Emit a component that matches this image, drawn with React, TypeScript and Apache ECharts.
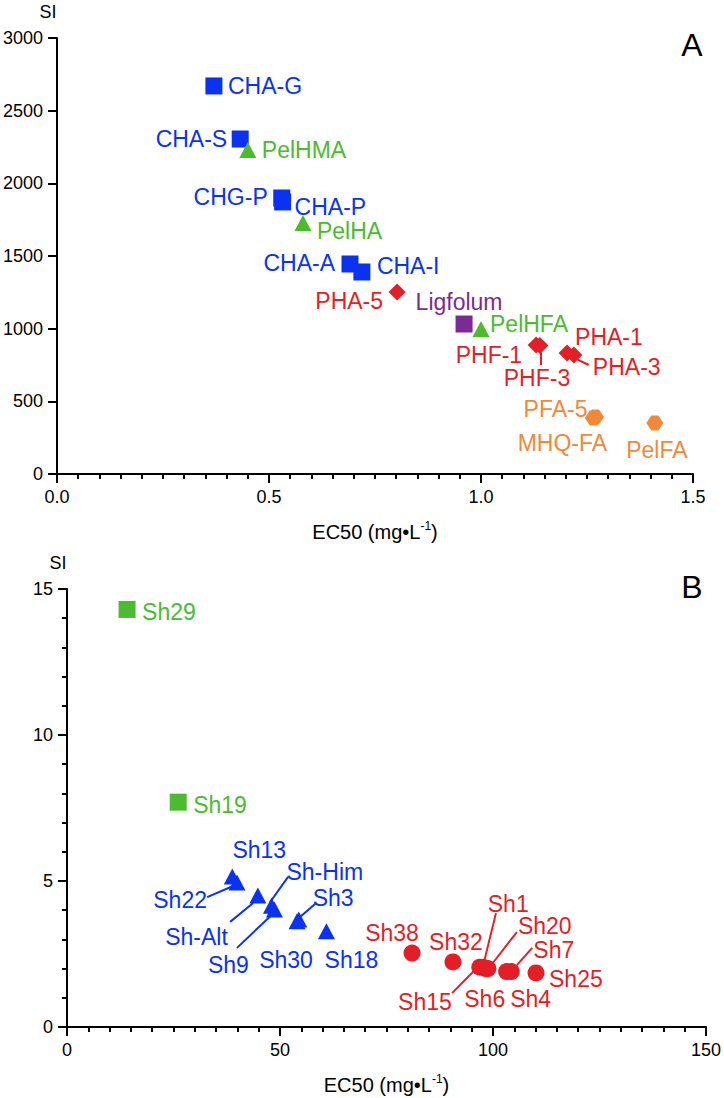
import React, { useEffect, useRef } from "react";
import * as echarts from "echarts";

// ---------- Panel A data ----------
const aBlueNames = ["CHA-G", "CHA-S", "CHG-P", "CHA-P", "CHA-A", "CHA-I"];
const aBlueEC50 = [0.37, 0.432, 0.53, 0.532, 0.691, 0.719];
const aBlueSI = [2670, 2305, 1899, 1872, 1445, 1390];

const aGreenNames = ["PelHMA", "PelHA", "PelHFA"];
const aGreenEC50 = [0.45, 0.58, 1.0];
const aGreenSI = [2230, 1727, 998];

const aRedNames = ["PHA-5", "PHF-1", "PHF-3", "PHA-1", "PHA-3"];
const aRedEC50 = [0.802, 1.13, 1.139, 1.203, 1.219];
const aRedSI = [1252, 888, 885, 833, 819];

const aPurpleNames = ["Ligfolum"];
const aPurpleEC50 = [0.96];
const aPurpleSI = [1032];

const aOrangeNames = ["MHQ-FA", "PFA-5", "PelFA"];
const aOrangeEC50 = [1.265, 1.27, 1.41];
const aOrangeSI = [385, 392, 351];

const aXTicks = [0, 0.5, 1.0, 1.5];
const aYTicks = [0, 500, 1000, 1500, 2000, 2500, 3000];

// ---------- Panel B data ----------
const bGreenNames = ["Sh29", "Sh19"];
const bGreenEC50 = [14.1, 26.1];
const bGreenSI = [14.3, 7.7];

const bBlueNames = ["Sh13", "Sh22", "Sh-Alt", "Sh-Him", "Sh9", "Sh30", "Sh3", "Sh18"];
const bBlueEC50 = [38.8, 39.9, 44.8, 48.0, 48.7, 54.0, 54.4, 60.9];
const bBlueSI = [5.15, 4.95, 4.5, 4.15, 4.02, 3.62, 3.68, 3.28];

const bRedNames = ["Sh38", "Sh32", "Sh15", "Sh1", "Sh6", "Sh20", "Sh4", "Sh7", "Sh25"];
const bRedEC50 = [81.0, 90.6, 96.9, 97.6, 98.3, 98.8, 103.2, 104.3, 110.1];
const bRedSI = [2.53, 2.23, 2.05, 2.05, 2.0, 2.0, 1.9, 1.9, 1.85];

const bXTicks = [0, 50, 100, 150];
const bYTicks = [0, 5, 10, 15];

// ---------- label placement (align, dx, dy in px from marker centre) ----------
const labelPlace: Record<string, [string, number, number]> = {
  "CHA-G": ["left", 14, 0],
  "CHA-S": ["right", -13, 0],
  "CHG-P": ["right", -14, -1],
  "CHA-P": ["left", 12, 5],
  "CHA-A": ["right", -15, -1],
  "CHA-I": ["left", 15, -6],
  PelHMA: ["left", 14, 0],
  PelHA: ["left", 14, 8],
  PelHFA: ["left", 9, -5],
  "PHA-5": ["right", -14, 9],
  "PHF-1": ["right", -14, 10],
  "PHF-3": ["center", -3, 33],
  "PHA-1": ["left", 8, -16],
  "PHA-3": ["left", 19, 12],
  Ligfolum: ["center", -5, -22],
  "PFA-5": ["right", -8, -8],
  "MHQ-FA": ["center", -31, 25],
  PelFA: ["center", 2, 27],
  Sh29: ["left", 15, 3],
  Sh19: ["left", 15, 3],
  Sh13: ["center", 27, -27],
  Sh22: ["right", -30, 18],
  "Sh-Alt": ["right", -30, 41],
  "Sh-Him": ["left", 15, -34],
  Sh9: ["center", -46, 55],
  Sh3: ["left", 14, -22],
  Sh30: ["center", -11, 39],
  Sh18: ["center", 25, 29],
  Sh38: ["center", -20, -20],
  Sh32: ["center", 3, -20],
  Sh1: ["left", 5, -63],
  Sh20: ["left", 30, -43],
  Sh7: ["left", 22, -22],
  Sh25: ["left", 13, 6],
  Sh15: ["right", -28, 35],
  Sh6: ["center", -1, 30],
  Sh4: ["center", 24, 27],
};

// leader lines (data coordinates: from label to marker)
const aLeaders: [number[], number[]][] = [
  [[1.142, 750], [1.141, 838]],
  [[1.254, 750], [1.227, 789]],
];
const bLeaders: [number[], number[]][] = [
  [[32.9, 4.45], [39.0, 4.83]],
  [[38.3, 3.6], [43.7, 4.25]],
  [[51.9, 5.14], [47.7, 4.28]],
  [[39.9, 2.71], [49.3, 4.01]],
  [[58.5, 4.25], [54.7, 3.77]],
  [[100.7, 3.9], [98.0, 2.29]],
  [[105.6, 3.25], [100.0, 2.2]],
  [[109.2, 2.71], [105.6, 2.12]],
  [[90.4, 1.16], [96.2, 2.02]],
];

const BLUE = "#0a32f0";
const GREEN = "#4cbb30";
const RED = "#e41e26";
const PURPLE = "#7b2a96";
const ORANGE = "#f08a3a";
const FONT = '"Liberation Sans", Arial, Helvetica, sans-serif';
const HEX = "path://M0,5 L2.9,0 L7.1,0 L10,5 L7.1,10 L2.9,10 Z";

function makeData(names: string[], xs: number[], ys: number[]) {
  return names.map((n, i) => {
    const p = labelPlace[n] || ["left", 12, 0];
    return {
      name: n,
      value: [xs[i], ys[i]],
      label: { align: p[0], offset: [p[1], p[2]] },
    };
  });
}

function scatter(
  idx: number,
  names: string[],
  xs: number[],
  ys: number[],
  color: string,
  symbol: string,
  size: number | number[]
) {
  return {
    type: "scatter",
    xAxisIndex: idx,
    yAxisIndex: idx,
    symbol,
    symbolSize: size,
    itemStyle: { color, opacity: 1 },
    label: {
      show: true,
      position: "inside",
      formatter: "{b}",
      color,
      fontSize: 23,
      lineHeight: 21,
      fontFamily: FONT,
      verticalAlign: "middle",
    },
    emphasis: { disabled: true },
    z: 3,
    data: makeData(names, xs, ys),
  };
}

function leaders(idx: number, segs: [number[], number[]][], colors: string[]) {
  return {
    type: "lines",
    coordinateSystem: "cartesian2d",
    xAxisIndex: idx,
    yAxisIndex: idx,
    z: 2,
    silent: true,
    lineStyle: { opacity: 1, width: 2 },
    data: segs.map((s, i) => ({
      coords: [s[0], s[1]],
      lineStyle: { color: colors[i], width: 2, opacity: 1 },
    })),
  };
}

function axisCommon() {
  return {
    axisLine: { show: true, onZero: false, lineStyle: { color: "#000", width: 2 } },
    axisTick: { show: true, inside: false, length: 9, lineStyle: { color: "#000", width: 2 } },
    splitLine: { show: false },
  };
}

export default function App() {
  const ref = useRef<HTMLDivElement>(null);
  useEffect(() => {
    document.body.style.margin = "0";
    const chart = echarts.init(ref.current!, null, { renderer: "svg" });
    const ec50Name = "EC50 (mg•L{sup|-1})";
    const nameStyle = {
      fontSize: 20,
      color: "#000",
      fontFamily: FONT,
      rich: { sup: { fontSize: 12, color: "#000", fontFamily: FONT, padding: [0, 0, 12, 0] } },
    };
    const labelStyle = { fontSize: 18, color: "#000", fontFamily: FONT };
    const plain = (v: number) => String(v);
    chart.setOption({
      animation: false,
      backgroundColor: "#fff",
      grid: [
        { left: 57, top: 38, width: 636, height: 436, containLabel: false },
        { left: 67, top: 589, width: 639, height: 438, containLabel: false },
      ],
      xAxis: [
        {
          type: "value",
          gridIndex: 0,
          min: aXTicks[0],
          max: aXTicks[aXTicks.length - 1],
          interval: 0.5,
          ...axisCommon(),
          minorTick: { show: true, splitNumber: 10, length: 5, lineStyle: { color: "#000", width: 2 } },
          axisLabel: { ...labelStyle, margin: 14, formatter: (v: number) => v.toFixed(1) },
          name: ec50Name,
          nameLocation: "middle",
          nameGap: 46,
          nameTextStyle: nameStyle,
        },
        {
          type: "value",
          gridIndex: 1,
          min: bXTicks[0],
          max: bXTicks[bXTicks.length - 1],
          interval: 50,
          ...axisCommon(),
          minorTick: { show: true, splitNumber: 10, length: 5, lineStyle: { color: "#000", width: 2 } },
          axisLabel: { ...labelStyle, margin: 14, formatter: plain },
          name: ec50Name,
          nameLocation: "middle",
          nameGap: 46,
          nameTextStyle: nameStyle,
        },
      ],
      yAxis: [
        {
          type: "value",
          gridIndex: 0,
          min: aYTicks[0],
          max: aYTicks[aYTicks.length - 1],
          interval: 500,
          ...axisCommon(),
          axisLabel: { ...labelStyle, margin: 14, formatter: plain },
        },
        {
          type: "value",
          gridIndex: 1,
          min: bYTicks[0],
          max: bYTicks[bYTicks.length - 1],
          interval: 5,
          ...axisCommon(),
          minorTick: { show: true, splitNumber: 5, length: 5, lineStyle: { color: "#000", width: 2 } },
          axisLabel: { ...labelStyle, margin: 14, formatter: plain },
        },
      ],
      graphic: [
        { type: "text", x: 48, y: 12, style: { text: "SI", fill: "#000", font: `18px ${FONT}`, align: "center", verticalAlign: "middle" } },
        { type: "text", x: 58, y: 563, style: { text: "SI", fill: "#000", font: `18px ${FONT}`, align: "center", verticalAlign: "middle" } },
        { type: "text", x: 692, y: 45, style: { text: "A", fill: "#000", font: `32px ${FONT}`, align: "center", verticalAlign: "middle" } },
        { type: "text", x: 692, y: 587, style: { text: "B", fill: "#000", font: `32px ${FONT}`, align: "center", verticalAlign: "middle" } },
      ],
      series: [
        leaders(0, aLeaders, [RED, RED]),
        scatter(0, aBlueNames, aBlueEC50, aBlueSI, BLUE, "rect", 17),
        scatter(0, aGreenNames, aGreenEC50, aGreenSI, GREEN, "triangle", [17, 16]),
        scatter(0, aRedNames, aRedEC50, aRedSI, RED, "diamond", 17),
        scatter(0, aPurpleNames, aPurpleEC50, aPurpleSI, PURPLE, "rect", 17),
        scatter(0, aOrangeNames, aOrangeEC50, aOrangeSI, ORANGE, HEX, [17, 15]),
        leaders(1, bLeaders, [BLUE, BLUE, BLUE, BLUE, BLUE, RED, RED, RED, RED]),
        scatter(1, bGreenNames, bGreenEC50, bGreenSI, GREEN, "rect", 17),
        scatter(1, bBlueNames, bBlueEC50, bBlueSI, BLUE, "triangle", [17, 16]),
        scatter(1, bRedNames, bRedEC50, bRedSI, RED, "circle", 17),
      ],
    });
    return () => chart.dispose();
  }, []);
  return <div ref={ref} style={{ width: 724, height: 1098 }} />;
}
